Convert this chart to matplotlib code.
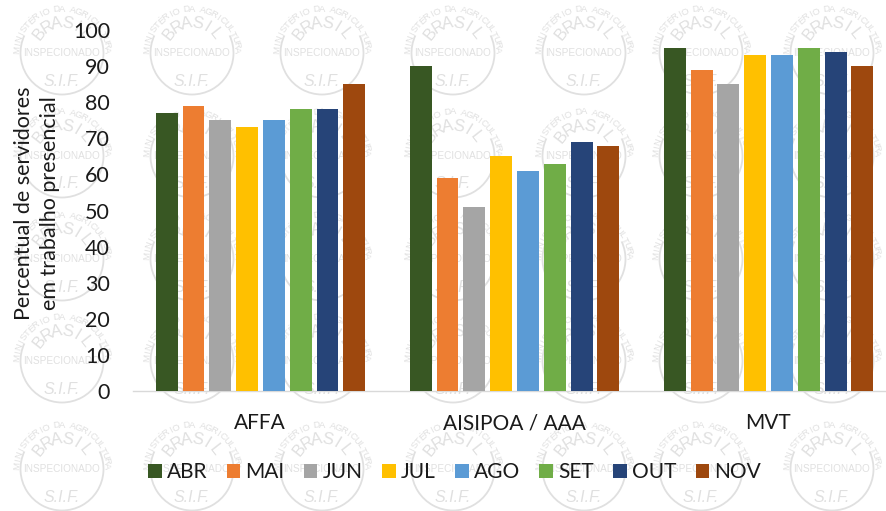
import numpy as np
import matplotlib
matplotlib.use("Agg")
import matplotlib.pyplot as plt
from matplotlib.patches import Arc

plt.rcParams['font.family'] = ['Lato', 'DejaVu Sans']

categories = ['AFFA', 'AISIPOA / AAA', 'MVT']
months = ['ABR', 'MAI', 'JUN', 'JUL', 'AGO', 'SET', 'OUT', 'NOV']
colors = ['#385723', '#ED7D31', '#A5A5A5', '#FFC000', '#5B9BD5', '#70AD47', '#264478', '#9E480E']
abr = [77, 90, 95]
mai = [79, 59, 89]
jun = [75, 51, 85]
jul = [73, 65, 93]
ago = [75, 61, 93]
set_ = [78, 63, 95]
out = [78, 69, 94]
nov = [85, 68, 90]
series = [abr, mai, jun, jul, ago, set_, out, nov]
yticks = list(range(0, 101, 10))
ylabel = 'Percentual de servidores\nem trabalho presencial'

W, H = 887, 511
fig = plt.figure(figsize=(W / 100, H / 100), dpi=100, facecolor='white')

# Watermark layer, in pixel coordinates
bg = fig.add_axes([0, 0, 1, 1], zorder=0)
bg.set_xlim(0, W)
bg.set_ylim(H, 0)
bg.axis('off')
stamp_x = [62, 192, 322, 453, 584, 701, 832]
stamp_y = [52, 155, 258, 360, 468]
wm = '#E0E0E0'


def arc_text(ax, cx, cy, r, s, span, size):
    angs = np.linspace(-span / 2, span / 2, len(s))
    for ch, a in zip(s, angs):
        t = np.radians(a)
        ax.text(cx + r * np.sin(t), cy - r * np.cos(t), ch, rotation=-a, fontsize=size,
                color=wm, ha='center', va='center', family='Liberation Sans', zorder=1)


for cx in stamp_x:
    for cy in stamp_y:
        bg.add_patch(Arc((cx, cy + 1), 83, 83, theta1=-25, theta2=205, ec=wm, lw=1.3, zorder=1))
        arc_text(bg, cx, cy + 2, 45, 'MINISTÉRIO DA AGRICULTURA', 170, 6.8)
        arc_text(bg, cx, cy, 29, 'BRASIL', 104, 12)
        bg.text(cx, cy + 1, 'INSPECIONADO', fontsize=7.2, color=wm, ha='center', va='center',
                family='Liberation Sans', zorder=1)
        bg.text(cx, cy + 29, 'S.I.F.', fontsize=11.5, color=wm, ha='center', va='center',
                style='italic', family='Liberation Sans', zorder=1)

# Chart
L, R, T, B = 133, 887, 30, 391
ax = fig.add_axes([L / W, 1 - B / H, (R - L) / W, (B - T) / H], zorder=2)
ax.patch.set_alpha(0)
x = np.arange(len(categories))
step = 0.1055
for i, (vals, c, m) in enumerate(zip(series, colors, months)):
    ax.bar(x + (i - 3.5) * step + 0.002, vals, width=0.086, color=c, label=m, zorder=3)
ax.set_xlim(-0.5, 2.468)
ax.set_ylim(0, 100)
ax.set_yticks(yticks)
ax.set_xticks(x, categories)
ax.tick_params(axis='y', length=0, pad=16.5, labelsize=15.5, labelcolor='#1a1a1a')
ax.tick_params(axis='x', length=0, pad=16, labelsize=15, labelcolor='#1a1a1a')
for s in ['top', 'left', 'right']:
    ax.spines[s].set_visible(False)
ax.spines['bottom'].set_color('#D9D9D9')
ax.spines['bottom'].set_linewidth(1.0)

fig.text(37 / W, 1 - 203 / H, ylabel, rotation=90, ha='center', va='center',
         fontsize=15.5, color='#1a1a1a', linespacing=1.37, zorder=5)

h, l = ax.get_legend_handles_labels()
fig.legend(h, l, ncol=8, loc='center left', bbox_to_anchor=(148 / W, 1 - 472 / H),
           frameon=False, fontsize=15, handlelength=0.65, handleheight=0.65,
           handletextpad=0.25, columnspacing=0.93, labelcolor='#1a1a1a', borderpad=0,
           borderaxespad=0)

fig.savefig('out.png', dpi=100)
